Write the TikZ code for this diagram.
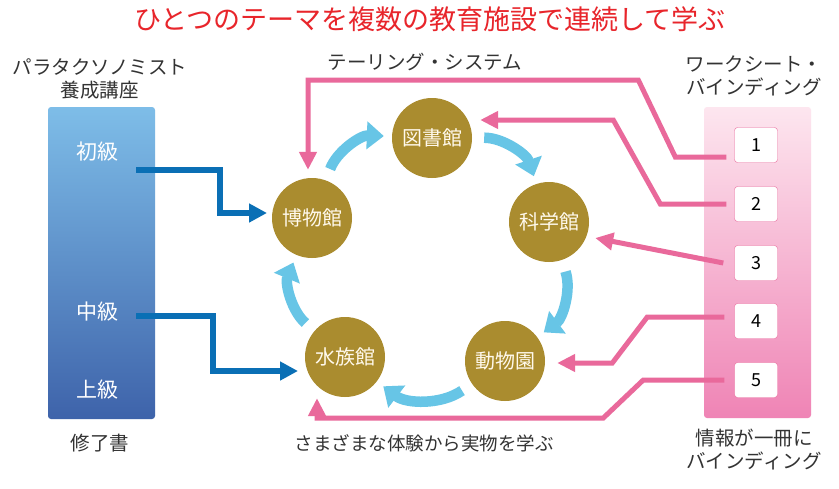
\documentclass[tikz,border=0pt]{standalone}
\usepackage{fontspec}
\setmainfont{Noto Sans CJK JP}
\usetikzlibrary{arrows.meta,calc,positioning}
\definecolor{titlered}{HTML}{E8252B}
\definecolor{ink}{HTML}{333333}
\definecolor{gold}{HTML}{AA8C2F}
\definecolor{cream}{HTML}{FFF9EC}
\definecolor{skyblue}{HTML}{67C5E6}
\definecolor{deepblue}{HTML}{0A6FB5}
\definecolor{barlight}{HTML}{7EBDE8}
\definecolor{barmid}{HTML}{5A85C4}
\definecolor{bardark}{HTML}{3E63AA}
\definecolor{pinkline}{HTML}{E9699B}
\definecolor{pinklight}{HTML}{FDE6EF}
\definecolor{pinkmid}{HTML}{F4AECB}
\definecolor{pinkdark}{HTML}{EF84B5}
\tikzset{
  lbl/.style={font=\fontsize{19.5}{23}\selectfont,text=ink,align=center,inner sep=0pt},
  venue/.style={circle,fill=gold,minimum size=80pt,inner sep=0pt,text=cream,
                font=\fontsize{20}{24}\selectfont},
  level/.style={text=white,inner sep=0pt,font=\fontsize{21}{24}\selectfont},
  cyclearrow/.style={-{Triangle[length=17pt,width=27pt]},line width=10.5pt,draw=skyblue,
                     shorten <=12pt,shorten >=8pt},
  entry/.style={-{Triangle[length=18pt,width=18pt]},line width=5.5pt,draw=deepblue},
  tailor/.style={-{Triangle[length=18pt,width=17pt]},line width=5pt,draw=pinkline},
  sheet/.style={draw=pinkline,fill=white,rounded corners=3pt,minimum width=43pt,
                minimum height=35pt,inner sep=0pt,font=\fontsize{18}{20}\selectfont}
}
\begin{document}
\begin{tikzpicture}[x=1pt,y=-1pt]
  \useasboundingbox[fill=white] (0,0) rectangle (839,488);
  \node[text=titlered,inner sep=0pt,font=\fontsize{27}{30}\selectfont] (title) at (430,19)
    {ひとつのテーマを複数の教育施設で連続して学ぶ};
  % left: course bar
  \node[lbl] (course) at (100,79) {パラタクソノミスト\\養成講座};
  \node[rounded corners=3pt,minimum width=107pt,minimum height=312pt,inner sep=0pt,
        top color=barlight,middle color=barmid,bottom color=bardark] (bar) at (101.5,263) {};
  \node[level] (beg) at (97,152) {初級};
  \node[level] (mid) at (97,312) {中級};
  \node[level] (adv) at (97,390) {上級};
  \node[lbl] (cert) at (100,443) {修了書};
  % centre: the venues
  \node[lbl] (tailoring) at (425,62) {テーリング・システム};
  \node[venue] (library) at (432,138) {図書館};
  \node[venue] (science) at (549,222) {科学館};
  \node[venue] (zoo) at (505,361) {動物園};
  \node[venue] (aquarium) at (345,357) {水族館};
  \node[venue] (museum) at (312,218) {博物館};
  \foreach \a/\b in {museum/library,library/science,science/zoo,zoo/aquarium,aquarium/museum}
    \draw[cyclearrow] (\a) to[bend left=36] (\b);
  \node[lbl,font=\fontsize{18.5}{22}\selectfont] (real) at (424,443) {さまざまな体験から実物を学ぶ};
  % right: binder
  \node[lbl] (worksheet) at (754,76) {ワークシート・\\バインディング};
  \node[rounded corners=3pt,minimum width=107pt,minimum height=311pt,inner sep=0pt,
        top color=pinklight,middle color=pinkmid,bottom color=pinkdark] (binder) at (757.5,262.5) {};
  \foreach \i/\y in {1/145,2/204,3/263,4/321,5/380}
    \node[sheet] (s\i) at (756,\y) {\i};
  \node[lbl] (bound) at (754,450) {情報が一冊に\\バインディング};
  % blue entries
  \draw[entry] ([xshift=39pt,yshift=-18pt]beg.center) -- ++(84,0) |- ([xshift=-45pt,yshift=5pt]museum.center);
  \draw[entry] ([xshift=39pt,yshift=-4pt]mid.center) -- ++(77,0) |- ([xshift=-47pt,yshift=-14pt]aquarium.center);
  % pink tailoring lines
  \draw[tailor] ([xshift=-8pt,yshift=-12pt]s1.west) -- ++(-51,0) -- ++(-37,-77) -| ([xshift=-4pt,yshift=8pt]museum.north);
  \draw[tailor] ([xshift=-8pt]s2.west) -- ++(-66,0) -- ++(-47,-84) -- ($(library.east)+(8,-18)$);
  \draw[tailor] ([xshift=-11pt]s3.west) -- ($(science.east)+(6,16)$);
  \draw[tailor] ([xshift=-10pt,yshift=4pt]s4.west) -- ++(-77,0) -- ++(-35,46) -- ($(zoo.east)+(12,2)$);
  \draw[tailor] ([xshift=-10pt]s5.west) -- ++(-81,0) -- ++(-40,38) -| ($(aquarium.south)+(-28,1)$);
\end{tikzpicture}
\end{document}
